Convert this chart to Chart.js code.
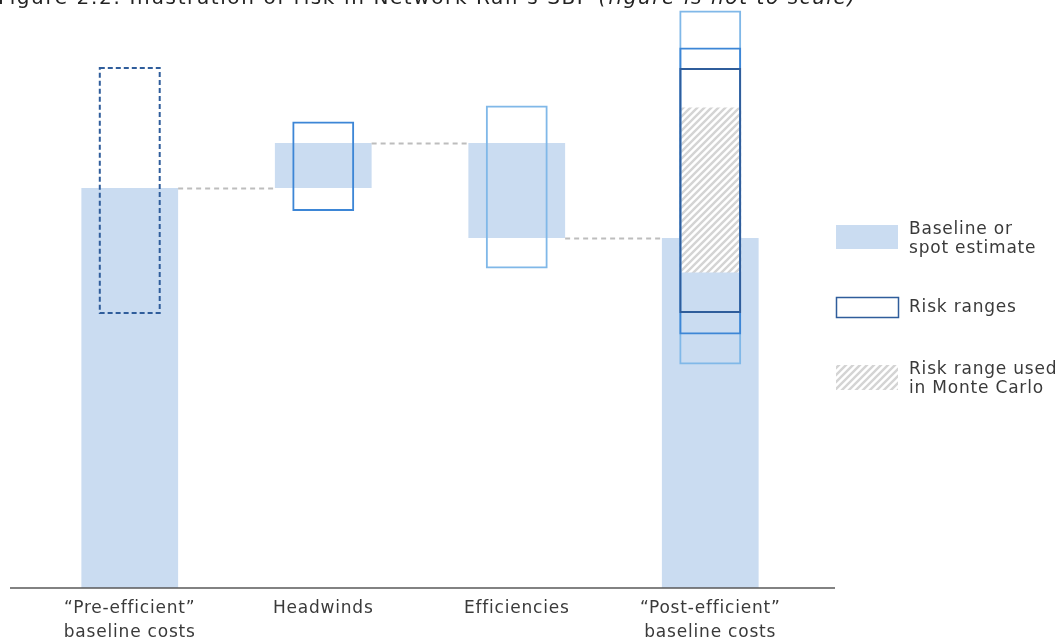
<!DOCTYPE html>
<html>
<head>
<meta charset="utf-8">
<script src="https://cdn.jsdelivr.net/npm/chart.js@4.4.1/dist/chart.umd.min.js"></script>
<style>
  html, body { margin: 0; padding: 0; background: #ffffff; }
  canvas { display: block; }
</style>
</head>
<body>
<canvas id="chart" width="1060" height="643"></canvas>
<script>
// Cost stages along the x axis
const categories = [
  ['\u201CPre-efficient\u201D', 'baseline costs'],
  'Headwinds',
  'Efficiencies',
  ['\u201CPost-efficient\u201D', 'baseline costs']
];

// Baseline / spot estimate (floating bars: low and high end)
const baselineLow  = [0, 80, 70, 0];
const baselineHigh = [80, 89, 89, 70];

// Risk ranges, one series per source of risk; the post-efficient column
// carries the cumulative ranges
const preEfficientRiskLow   = [55, null, null, 55];
const preEfficientRiskHigh  = [104, null, null, 104];
const headwindsRiskLow      = [null, 75.4, null, 50.7];
const headwindsRiskHigh     = [null, 93.3, null, 108.1];
const efficienciesRiskLow   = [null, null, 63.9, 44.7];
const efficienciesRiskHigh  = [null, null, 96.5, 115.5];

// Range used in the Monte Carlo simulation
const monteCarloLow  = [null, null, null, 63.1];
const monteCarloHigh = [null, null, null, 96.1];

const yMin = 0;
const yMax = 116;

const titleMain = 'Figure 2.2: Illustration of risk in Network Rail\u2019s SBP ';
const titleNote = '(figure is not to scale)';

const legendItems = [
  { kind: 'fill',   lines: ['Baseline or', 'spot estimate'] },
  { kind: 'box',    lines: ['Risk ranges'] },
  { kind: 'hatch',  lines: ['Risk range used', 'in Monte Carlo'] }
];

const FONT = '"DejaVu Sans", Verdana, sans-serif';
const LETTER_SPACING = '0.8px';
const COLORS = {
  baseline: '#cadcf1',
  dark: '#2f5d9b',
  mid: '#3d86d6',
  light: '#80b8e8',
  stripe: '#d4d4d4',
  connector: '#bdbdbd',
  axis: '#595959',
  text: '#3a3a3a'
};

function pairs(lo, hi) {
  return lo.map((v, i) => (v === null || hi[i] === null) ? null : [v, hi[i]]);
}

function makeHatch() {
  const s = 7;
  const c = document.createElement('canvas');
  c.width = s; c.height = s;
  const g = c.getContext('2d');
  g.fillStyle = '#ffffff';
  g.fillRect(0, 0, s, s);
  g.strokeStyle = COLORS.stripe;
  g.lineWidth = 2.4;
  g.beginPath();
  g.moveTo(0, s); g.lineTo(s, 0);
  g.moveTo(-1, 1); g.lineTo(1, -1);
  g.moveTo(s - 1, s + 1); g.lineTo(s + 1, s - 1);
  g.stroke();
  return g.createPattern(c, 'repeat');
}
const hatch = makeHatch();

const boxCommon = {
  backgroundColor: 'rgba(0,0,0,0)',
  borderWidth: 2,
  borderSkipped: false,
  grouped: false,
  categoryPercentage: 1,
  barPercentage: 0.32
};

// Dashed connectors between consecutive baseline bars, the dashed
// pre-efficient range, the axis line, the legend and the title.
const decorations = {
  id: 'decorations',
  beforeDraw(chart) {
    chart.ctx.letterSpacing = LETTER_SPACING;
  },
  afterDatasetsDraw(chart) {
    const ctx = chart.ctx;
    const y = chart.scales.y;
    const base = chart.getDatasetMeta(0).data;

    ctx.save();
    ctx.strokeStyle = COLORS.connector;
    ctx.lineWidth = 2;
    ctx.setLineDash([5, 4]);
    for (let i = 0; i < base.length - 1; i++) {
      const a = [baselineLow[i], baselineHigh[i]];
      const b = [baselineLow[i + 1], baselineHigh[i + 1]];
      const level = a.find(v => b.includes(v));
      if (level === undefined) continue;
      const py = Math.round(y.getPixelForValue(level)) + 0.5;
      ctx.beginPath();
      ctx.moveTo(base[i].x + base[i].width / 2, py);
      ctx.lineTo(base[i + 1].x - base[i + 1].width / 2, py);
      ctx.stroke();
    }

    // the pre-efficient range is drawn dashed in its own column
    const preMeta = chart.getDatasetMeta(2).data[0];
    ctx.strokeStyle = COLORS.dark;
    ctx.lineWidth = 2;
    ctx.setLineDash([5, 3]);
    const left = preMeta.x - preMeta.width / 2 + 1;
    ctx.strokeRect(left, preMeta.y, preMeta.width - 2, preMeta.base - preMeta.y);
    ctx.restore();
  },
  afterDraw(chart) {
    const ctx = chart.ctx;
    const y0 = chart.scales.y.getPixelForValue(yMin);

    ctx.save();
    ctx.letterSpacing = LETTER_SPACING;
    // horizontal axis line
    ctx.strokeStyle = COLORS.axis;
    ctx.lineWidth = 1.5;
    ctx.beginPath();
    ctx.moveTo(10, y0);
    ctx.lineTo(835, y0);
    ctx.stroke();

    // legend
    const sx = 836, sw = 62;
    const rows = [
      { top: 225, h: 24, textY: [230, 249] },
      { top: 297, h: 20, textY: [308] },
      { top: 365, h: 25, textY: [370, 389] }
    ];
    ctx.font = '17px ' + FONT;
    ctx.textBaseline = 'middle';
    legendItems.forEach((item, i) => {
      const r = rows[i];
      if (item.kind === 'fill') {
        ctx.fillStyle = COLORS.baseline;
        ctx.fillRect(sx, r.top, sw, r.h);
      } else if (item.kind === 'box') {
        ctx.strokeStyle = COLORS.dark;
        ctx.lineWidth = 1.5;
        ctx.strokeRect(sx + 0.5, r.top + 0.5, sw, r.h);
      } else {
        ctx.fillStyle = hatch;
        ctx.fillRect(sx, r.top, sw, r.h);
      }
      ctx.fillStyle = COLORS.text;
      item.lines.forEach((line, j) => {
        ctx.fillText(line, 909, r.textY[j]);
      });
    });

    // title, partly above the top edge
    ctx.textBaseline = 'alphabetic';
    ctx.fillStyle = '#222222';
    ctx.letterSpacing = '1.6px';
    ctx.font = '20px ' + FONT;
    ctx.fillText(titleMain, -2, 4);
    const w = ctx.measureText(titleMain).width;
    ctx.font = 'italic 20px ' + FONT;
    ctx.fillText(titleNote, -2 + w, 4);
    ctx.restore();
  }
};

new Chart(document.getElementById('chart'), {
  type: 'bar',
  data: {
    labels: categories,
    datasets: [
      {
        label: 'Baseline or spot estimate',
        data: pairs(baselineLow, baselineHigh),
        backgroundColor: COLORS.baseline,
        borderWidth: 0,
        grouped: false,
        categoryPercentage: 1,
        barPercentage: 0.5,
        order: 10
      },
      {
        label: 'Risk range used in Monte Carlo',
        data: pairs(monteCarloLow, monteCarloHigh),
        backgroundColor: hatch,
        borderWidth: 0,
        grouped: false,
        categoryPercentage: 1,
        barPercentage: 0.32,
        order: 9
      },
      Object.assign({}, boxCommon, {
        label: 'Pre-efficient risk range',
        data: pairs(preEfficientRiskLow, preEfficientRiskHigh),
        borderColor: (c) => c.dataIndex === 0 ? 'rgba(0,0,0,0)' : COLORS.dark,
        order: 1
      }),
      Object.assign({}, boxCommon, {
        label: 'Headwinds risk range',
        data: pairs(headwindsRiskLow, headwindsRiskHigh),
        borderColor: COLORS.mid,
        order: 2
      }),
      Object.assign({}, boxCommon, {
        label: 'Efficiencies risk range',
        data: pairs(efficienciesRiskLow, efficienciesRiskHigh),
        borderColor: COLORS.light,
        order: 3
      })
    ]
  },
  options: {
    responsive: false,
    animation: false,
    layout: { padding: { left: 33, right: 253, top: 8, bottom: 0 } },
    plugins: {
      legend: { display: false },
      tooltip: { enabled: false },
      title: { display: false }
    },
    scales: {
      x: {
        grid: { display: false, drawTicks: false },
        border: { display: false },
        ticks: {
          color: COLORS.text,
          font: { family: FONT, size: 17, lineHeight: 1.4 },
          padding: 9,
          maxRotation: 0,
          autoSkip: false
        },
        afterFit(scale) { scale.height = 55; }
      },
      y: {
        display: false,
        min: yMin,
        max: yMax
      }
    }
  },
  plugins: [decorations]
});
</script>
</body>
</html>
